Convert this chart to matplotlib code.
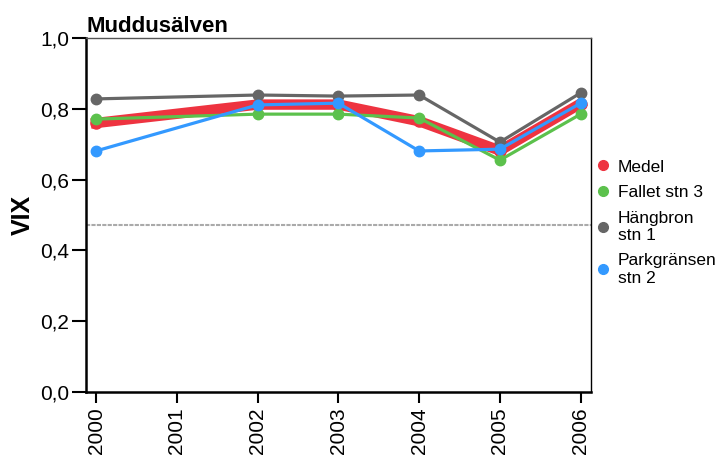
import matplotlib.pyplot as plt
import numpy as np

plt.rcParams['font.family'] = ['Liberation Sans', 'DejaVu Sans']

years = [2000, 2002, 2003, 2004, 2005, 2006]
medel = [0.760, 0.812, 0.812, 0.765, 0.682, 0.815]
fallet = [0.771, 0.785, 0.785, 0.774, 0.655, 0.785]
hangbron = [0.828, 0.839, 0.836, 0.839, 0.706, 0.845]
parkgransen = [0.681, 0.811, 0.816, 0.681, 0.686, 0.816]
ref_line = 0.472

fig = plt.figure(figsize=(7.23, 4.58), dpi=100)
ax = fig.add_axes([0.119, 0.144, 0.698, 0.773])

ax.axhline(ref_line, color='#aaaaaa', lw=1.5, ls=(0, (2, 0.6)), zorder=0)

ax.plot(years, medel, color='#ee3340', lw=7.5, marker='o', ms=8, zorder=1, label='Medel')
ax.plot(years, fallet, color='#5cc14c', lw=2.3, marker='o', ms=7.5, zorder=2, label='Fallet stn 3')
ax.plot(years, hangbron, color='#666666', lw=2.3, marker='o', ms=7.5, zorder=3, label='Hängbron\nstn 1')
ax.plot(years, parkgransen, color='#3399ff', lw=2.3, marker='o', ms=7.5, zorder=4, label='Parkgränsen\nstn 2')

ax.set_xlim(1999.876, 2006.124)
ax.set_ylim(0, 1.0)
ax.set_xticks(np.arange(2000, 2007))
ax.set_xticklabels([str(y) for y in range(2000, 2007)], rotation=90, fontsize=15)
ax.set_yticks(np.arange(0, 1.01, 0.2))
ax.set_yticklabels(['0,0', '0,2', '0,4', '0,6', '0,8', '1,0'], fontsize=15)
ax.tick_params(axis='y', length=10, width=1.5, pad=2)
ax.tick_params(axis='x', length=8, width=1.5, pad=3)

ax.spines['left'].set_linewidth(1.8)
ax.spines['bottom'].set_linewidth(1.8)
ax.spines['top'].set_color('#555555')
ax.spines['top'].set_linewidth(1.0)
ax.spines['right'].set_linewidth(1.0)

ax.set_ylabel('VIX', fontsize=18, fontweight='bold', labelpad=4)
ax.set_title('Muddusälven', loc='left', fontsize=16, fontweight='bold', pad=4)

handles = [plt.Line2D([], [], color=c, marker='o', ls='', ms=7)
           for c in ['#ee3340', '#5cc14c', '#666666', '#3399ff']]
labels = ['Medel', 'Fallet stn 3', 'Hängbron\nstn 1', 'Parkgränsen\nstn 2']
fig.legend(handles, labels, loc='upper left', bbox_to_anchor=(0.822, 0.652),
           frameon=False, fontsize=12.5, handletextpad=0.35, labelspacing=0.6,
           handlelength=1.0, borderpad=0, borderaxespad=0)

fig.savefig('out.png', dpi=100)
